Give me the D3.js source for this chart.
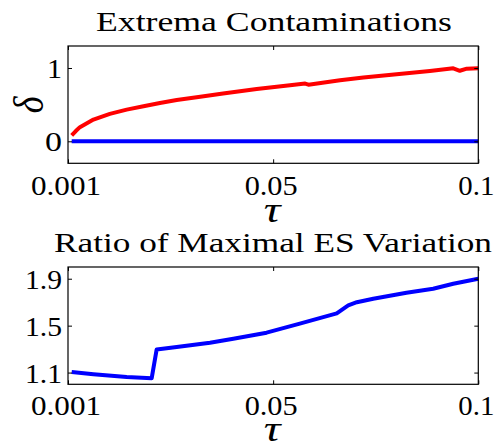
<!DOCTYPE html>
<html>
<head>
<meta charset="utf-8">
<script src="https://cdn.jsdelivr.net/npm/d3@7"></script>
<style>
html,body{margin:0;padding:0;background:#fff;}
svg{display:block;}
</style>
</head>
<body>
<svg id="chart" width="497" height="442"></svg>
<script>
// ---- data ----
const titles = ["Extrema Contaminations", "Ratio of Maximal ES Variation"];
const xTickValues = [0, 0.05, 0.1];
const xTickLabels = ["0.001", "0.05", "0.1"];
const topYTicks = [0, 1];
const topYTickLabels = ["0", "1"];
const bottomYTicks = [1.1, 1.5, 1.9];
const bottomYTickLabels = ["1.1", "1.5", "1.9"];

const tauRed = [0.0009,0.0019,0.0029,0.0062,0.0102,0.0143,0.0184,0.0224,0.0265,0.0318,0.0378,0.0460,0.0541,0.0578,0.0586,0.0663,0.0720,0.0801,0.0882,0.0939,0.0955,0.0972,0.1];
const redValues = [0.08,0.14,0.193,0.297,0.374,0.432,0.477,0.523,0.563,0.604,0.653,0.712,0.766,0.788,0.772,0.834,0.869,0.915,0.959,0.996,0.962,0.991,0.996];

const tauBlueTop = [0.0009, 0.1];
const blueTopValues = [0, 0];

const tauRatio = [0.0009,0.0062,0.0143,0.0204,0.0216,0.0265,0.0346,0.0403,0.0484,0.0565,0.0655,0.0683,0.0704,0.0744,0.0825,0.0890,0.0939,0.1];
const ratioValues = [1.105,1.086,1.063,1.052,1.296,1.318,1.355,1.389,1.44,1.517,1.605,1.673,1.70,1.73,1.781,1.815,1.857,1.9];

// ---- layout ----
const FONT = "'Liberation Serif', 'Times New Roman', 'DejaVu Serif', serif";
const svg = d3.select("#chart");
const L = 68, R = 478.3;
const x = d3.scaleLinear().domain([0, 0.1]).range([L, R]);

function drawPanel(cfg) {
  const y = d3.scaleLinear().domain(cfg.yDomain).range([cfg.bottom, cfg.top]);
  const g = svg.append("g");
  const line = d3.line().x(d => x(d[0])).y(d => y(d[1]));
  cfg.series.forEach(s => {
    g.append("path")
      .datum(d3.zip(s.xs, s.ys))
      .attr("d", line)
      .attr("fill", "none")
      .attr("stroke", s.color)
      .attr("stroke-width", 4)
      .attr("stroke-linejoin", "round");
  });
  g.append("rect").attr("x", L).attr("y", cfg.top).attr("width", R - L).attr("height", cfg.bottom - cfg.top)
    .attr("fill", "none").attr("stroke", "#000").attr("stroke-width", 1.2);
  const tickLen = 4;
  const xb = d3.axisBottom(x).tickValues(xTickValues).tickSize(-tickLen).tickFormat("");
  const xt = d3.axisTop(x).tickValues(xTickValues).tickSize(-tickLen).tickFormat("");
  const yl = d3.axisLeft(y).tickValues(cfg.yTicks).tickSize(-tickLen).tickFormat("");
  const yr = d3.axisRight(y).tickValues(cfg.yTicks).tickSize(-tickLen).tickFormat("");
  [[xb, `translate(0,${cfg.bottom})`], [xt, `translate(0,${cfg.top})`],
   [yl, `translate(${L},0)`], [yr, `translate(${R},0)`]].forEach(([ax, tr]) => {
    const a = g.append("g").attr("transform", tr).call(ax);
    a.select(".domain").remove();
    a.selectAll("line").attr("stroke", "#000").attr("stroke-width", 1);
  });
  const xw = [70, 53, 36];
  xTickValues.forEach((v, i) => {
    g.append("text").attr("x", x(v) - 2).attr("y", cfg.xLabelBase)
      .attr("text-anchor", "middle").attr("font-size", 27).attr("font-family", FONT)
      .attr("textLength", xw[i]).attr("lengthAdjust", "spacingAndGlyphs")
      .text(xTickLabels[i]);
  });
  cfg.yTicks.forEach((v, i) => {
    g.append("text").attr("x", 62).attr("y", y(v) + 10)
      .attr("text-anchor", "end").attr("font-size", 27).attr("font-family", FONT)
      .attr("textLength", cfg.yLabelWidths[i]).attr("lengthAdjust", "spacingAndGlyphs")
      .text(cfg.yLabels[i]);
  });
  g.append("text").attr("x", cfg.titleX).attr("y", cfg.titleBase)
    .attr("text-anchor", "middle").attr("font-size", 27).attr("font-family", FONT)
    .attr("textLength", cfg.titleWidth).attr("lengthAdjust", "spacingAndGlyphs")
    .text(cfg.title);
  g.append("text").attr("transform", `translate(272,${cfg.tauBase}) scale(1.3,1)`)
    .attr("text-anchor", "middle").attr("font-size", 36).attr("font-style", "italic").attr("font-family", FONT)
    .text("τ");
  return y;
}

drawPanel({
  top: 46, bottom: 163.3, yDomain: [-0.3, 1.3], yTicks: topYTicks,
  yLabels: topYTickLabels, yLabelWidths: [17, 15],
  series: [
    {xs: tauBlueTop, ys: blueTopValues, color: "#0000ff"},
    {xs: tauRed, ys: redValues, color: "#ff0000"}
  ],
  xLabelBase: 195, tauBase: 222,
  title: titles[0], titleX: 274, titleBase: 31, titleWidth: 356
});

drawPanel({
  top: 267, bottom: 384.3, yDomain: [1.0, 2.0], yTicks: bottomYTicks,
  yLabels: bottomYTickLabels, yLabelWidths: [37, 37, 37],
  series: [
    {xs: tauRatio, ys: ratioValues, color: "#0000ff"}
  ],
  xLabelBase: 415, tauBase: 441,
  title: titles[1], titleX: 273, titleBase: 252, titleWidth: 438
});

svg.append("text")
  .attr("transform", "translate(43,105) scale(1.2,1) rotate(-90)")
  .attr("text-anchor", "middle").attr("font-size", 36).attr("font-style", "italic").attr("font-family", FONT)
  .text("δ");
</script>
</body>
</html>
